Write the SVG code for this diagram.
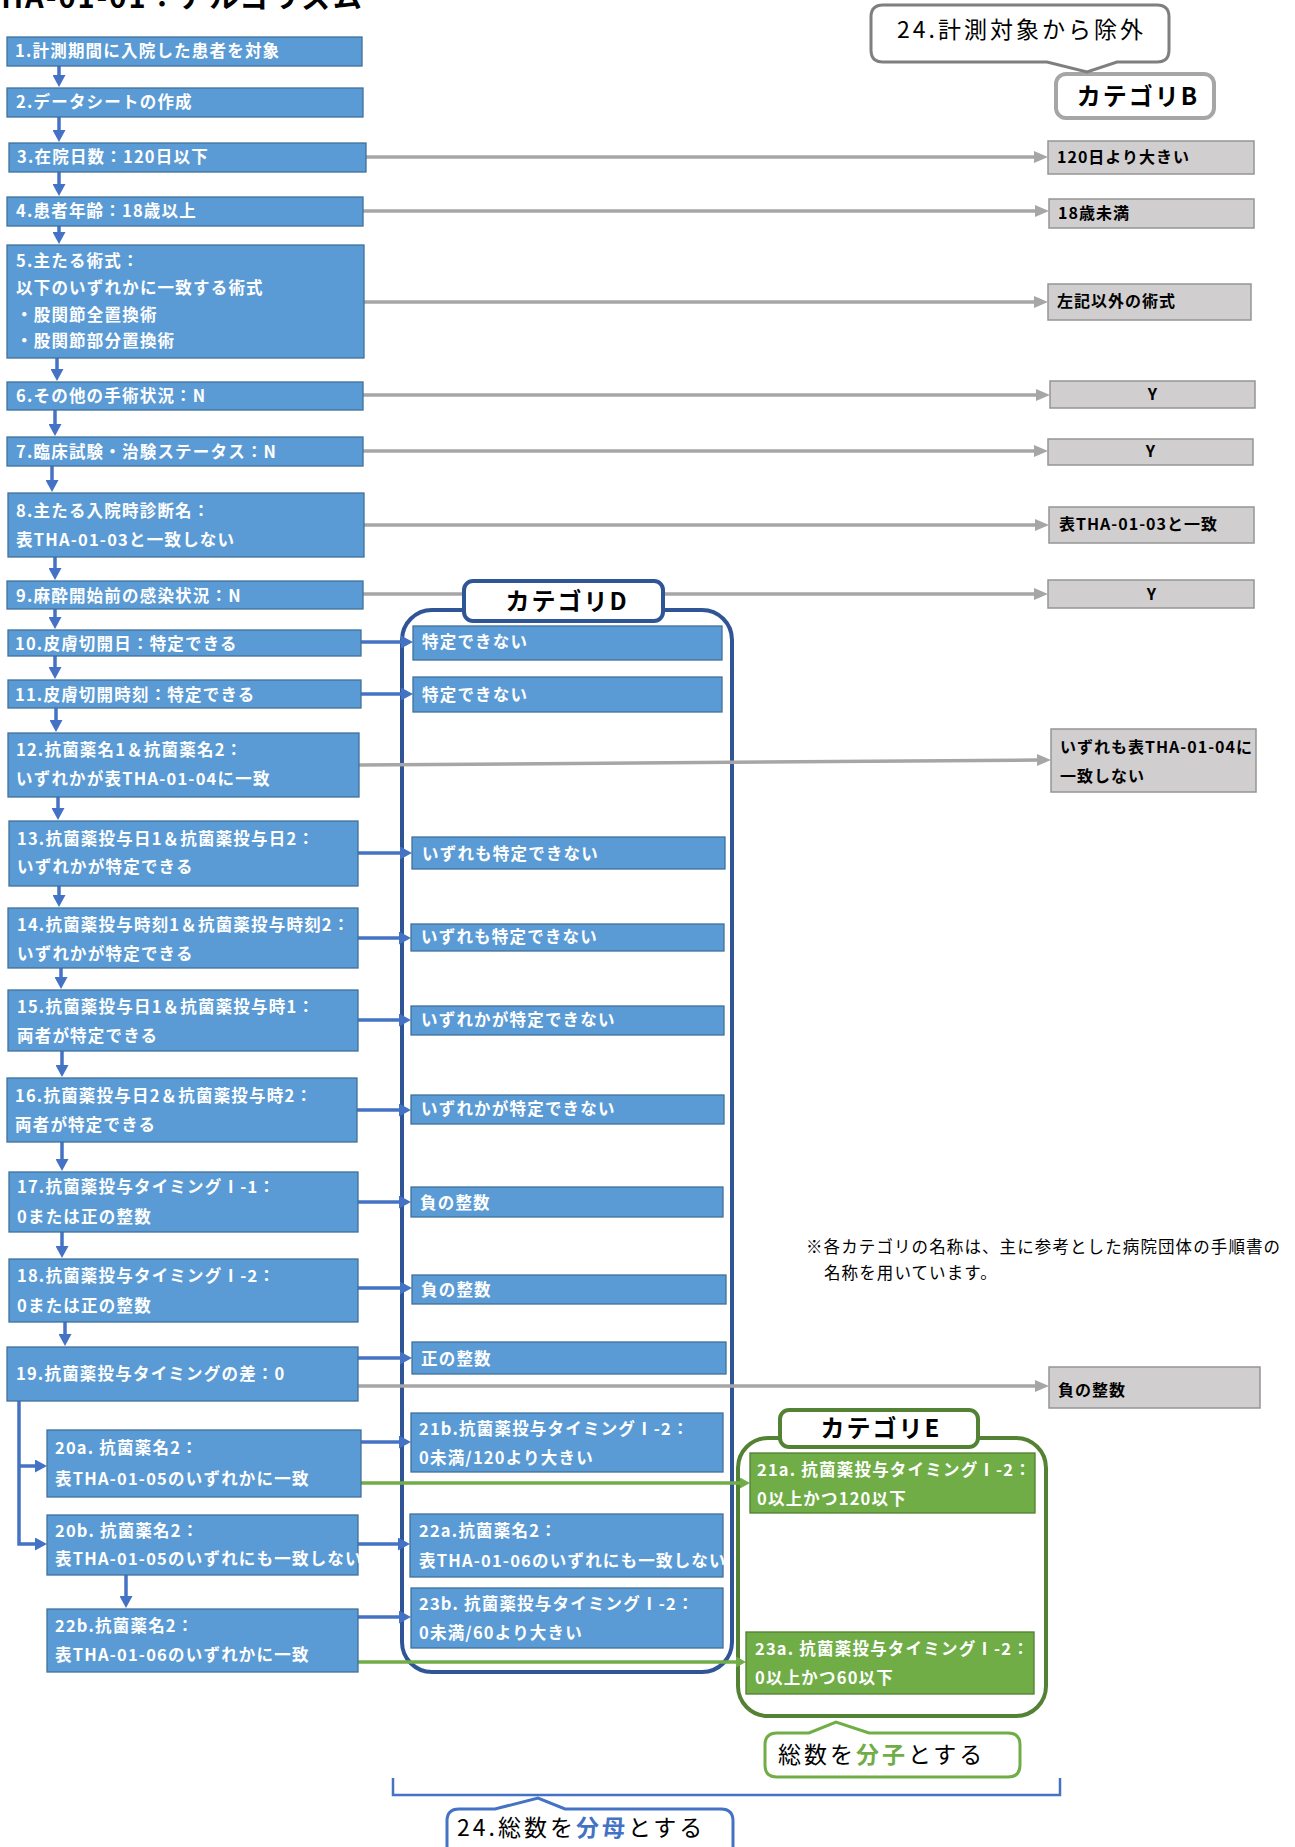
<svg xmlns="http://www.w3.org/2000/svg" width="1295" height="1847" viewBox="0 0 1295 1847">
<defs>
<style>
.bx{fill:#5B9BD5;stroke:#41719C;stroke-width:1.3}
.gb{fill:#D0CECE;stroke:#959595;stroke-width:1.5}
.gn{fill:#70AD47;stroke:#507E32;stroke-width:1.3}
text{font-family:"Noto Sans CJK JP","Noto Sans",sans-serif}
.wt{font-size:16.5px;font-weight:bold;fill:#fff;letter-spacing:1.2px}
.bt{font-size:16px;font-weight:bold;fill:#000;letter-spacing:1px}
.cat{font-size:24px;font-weight:bold;fill:#000;letter-spacing:2px}
.big{font-size:23px;fill:#000;letter-spacing:3px}
.note{font-size:16.5px;fill:#000;letter-spacing:1.1px}
.cb{stroke:#4472C4;stroke-width:3.5;fill:none}
.cg{stroke:#A6A6A6;stroke-width:3.5;fill:none}
.cgr{stroke:#70AD47;stroke-width:3.5;fill:none}
</style>
<marker id="ab" markerUnits="userSpaceOnUse" markerWidth="12" markerHeight="13" viewBox="0 0 12 13" refX="0" refY="6.5" orient="auto"><path d="M0,0 L12,6.5 L0,13 z" fill="#4472C4"/></marker>
<marker id="ag" markerUnits="userSpaceOnUse" markerWidth="14" markerHeight="12" viewBox="0 0 14 12" refX="0" refY="6" orient="auto"><path d="M0,0 L14,6 L0,12 z" fill="#A6A6A6"/></marker>
<marker id="agr" markerUnits="userSpaceOnUse" markerWidth="10" markerHeight="11" viewBox="0 0 10 11" refX="0" refY="5.5" orient="auto"><path d="M0,0 L10,5.5 L0,11 z" fill="#70AD47"/></marker>
</defs>
<rect width="1295" height="1847" fill="#fff"/>

<text id="title" x="-19" y="8" style="font-size:29px;font-weight:bold;fill:#000;letter-spacing:2px">THA-01-01：アルゴリズム</text>

<g id="containers">
<rect id="catD-frame" x="402" y="610" width="330" height="1062" rx="30" fill="none" stroke="#2F5597" stroke-width="4"/>
<rect id="catE-frame" x="738" y="1438" width="308" height="278" rx="30" fill="none" stroke="#548235" stroke-width="4"/>
</g>

<g id="connectors">
<path class="cb" marker-end="url(#ab)" d="M59,66 V75"/>
<path class="cb" marker-end="url(#ab)" d="M59,117 V130"/>
<path class="cb" marker-end="url(#ab)" d="M59,172 V184"/>
<path class="cb" marker-end="url(#ab)" d="M59,226 V232"/>
<path class="cb" marker-end="url(#ab)" d="M57,358 V369"/>
<path class="cb" marker-end="url(#ab)" d="M55,410 V424"/>
<path class="cb" marker-end="url(#ab)" d="M52,466 V480"/>
<path class="cb" marker-end="url(#ab)" d="M55,557 V568"/>
<path class="cb" marker-end="url(#ab)" d="M55,609 V617"/>
<path class="cb" marker-end="url(#ab)" d="M55,656 V667"/>
<path class="cb" marker-end="url(#ab)" d="M56,708 V720"/>
<path class="cb" marker-end="url(#ab)" d="M58,797 V808"/>
<path class="cb" marker-end="url(#ab)" d="M59,886 V895"/>
<path class="cb" marker-end="url(#ab)" d="M61,968 V977"/>
<path class="cb" marker-end="url(#ab)" d="M62,1051 V1065"/>
<path class="cb" marker-end="url(#ab)" d="M62,1142 V1159"/>
<path class="cb" marker-end="url(#ab)" d="M62,1232 V1246"/>
<path class="cb" marker-end="url(#ab)" d="M65,1322 V1334"/>
<path class="cb" marker-end="url(#ab)" d="M19,1401 V1544 H35"/>
<path class="cb" marker-end="url(#ab)" d="M19,1466 H35"/>
<path class="cb" marker-end="url(#ab)" d="M126,1575 V1596"/>

<path class="cb" marker-end="url(#ab)" d="M361,642 H401"/>
<path class="cb" marker-end="url(#ab)" d="M361,694 H401"/>
<path class="cb" marker-end="url(#ab)" d="M358,853 H400"/>
<path class="cb" marker-end="url(#ab)" d="M358,938 H399"/>
<path class="cb" marker-end="url(#ab)" d="M358,1020 H399"/>
<path class="cb" marker-end="url(#ab)" d="M357,1110 H399"/>
<path class="cb" marker-end="url(#ab)" d="M358,1202 H399"/>
<path class="cb" marker-end="url(#ab)" d="M358,1288 H400"/>
<path class="cb" marker-end="url(#ab)" d="M358,1358 H400"/>
<path class="cb" marker-end="url(#ab)" d="M361,1442 H399"/>
<path class="cb" marker-end="url(#ab)" d="M358,1544 H398"/>
<path class="cb" marker-end="url(#ab)" d="M358,1617 H399"/>

<path class="cg" marker-end="url(#ag)" d="M366,157 H1034"/>
<path class="cg" marker-end="url(#ag)" d="M363,211 H1035"/>
<path class="cg" marker-end="url(#ag)" d="M364,302 H1034"/>
<path class="cg" marker-end="url(#ag)" d="M363,395 H1036"/>
<path class="cg" marker-end="url(#ag)" d="M363,451 H1034"/>
<path class="cg" marker-end="url(#ag)" d="M364,525 H1035"/>
<path class="cg" marker-end="url(#ag)" d="M363,594 H1034"/>
<path class="cg" marker-end="url(#ag)" d="M359,765 L1037,760"/>
<path class="cg" marker-end="url(#ag)" d="M358,1386 H1035"/>

<path class="cgr" marker-end="url(#agr)" d="M361,1483 H740"/>
<path class="cgr" marker-end="url(#agr)" d="M358,1662 H736"/>

<path d="M393,1778 V1795 H1060 V1778" fill="none" stroke="#4472C4" stroke-width="2.5"/>
</g>

<g id="n1"><rect class="bx" x="7" y="37" width="355" height="29"/><text class="wt" x="15" y="57">1.計測期間に入院した患者を対象</text></g>
<g id="n2"><rect class="bx" x="7" y="88" width="356" height="29"/><text class="wt" x="16" y="108">2.データシートの作成</text></g>
<g id="n3"><rect class="bx" x="9" y="143" width="357" height="29"/><text class="wt" x="17" y="163">3.在院日数：120日以下</text></g>
<g id="n4"><rect class="bx" x="7" y="197" width="356" height="29"/><text class="wt" x="16" y="217">4.患者年齢：18歳以上</text></g>
<g id="n5"><rect class="bx" x="7" y="245" width="357" height="113"/>
<text class="wt" x="16" y="267">5.主たる術式：</text>
<text class="wt" x="16" y="294">以下のいずれかに一致する術式</text>
<text class="wt" x="16" y="321">・股関節全置換術</text>
<text class="wt" x="16" y="347">・股関節部分置換術</text></g>
<g id="n6"><rect class="bx" x="7" y="382" width="356" height="28"/><text class="wt" x="16" y="402">6.その他の手術状況：N</text></g>
<g id="n7"><rect class="bx" x="7" y="437" width="356" height="29"/><text class="wt" x="16" y="458">7.臨床試験・治験ステータス：N</text></g>
<g id="n8"><rect class="bx" x="8" y="493" width="356" height="64"/>
<text class="wt" x="16" y="517">8.主たる入院時診断名：</text>
<text class="wt" x="16" y="546">表THA-01-03と一致しない</text></g>
<g id="n9"><rect class="bx" x="7" y="581" width="356" height="28"/><text class="wt" x="16" y="602">9.麻酔開始前の感染状況：N</text></g>
<g id="n10"><rect class="bx" x="8" y="630" width="353" height="26"/><text class="wt" x="15" y="650">10.皮膚切開日：特定できる</text></g>
<g id="n11"><rect class="bx" x="8" y="680" width="353" height="28"/><text class="wt" x="15" y="701">11.皮膚切開時刻：特定できる</text></g>
<g id="n12"><rect class="bx" x="8" y="733" width="351" height="64"/>
<text class="wt" x="16" y="756">12.抗菌薬名1＆抗菌薬名2：</text>
<text class="wt" x="16" y="785">いずれかが表THA-01-04に一致</text></g>
<g id="n13"><rect class="bx" x="9" y="821" width="349" height="65"/>
<text class="wt" x="17" y="845">13.抗菌薬投与日1＆抗菌薬投与日2：</text>
<text class="wt" x="17" y="873">いずれかが特定できる</text></g>
<g id="n14"><rect class="bx" x="8" y="908" width="350" height="60"/>
<text class="wt" x="17" y="931">14.抗菌薬投与時刻1＆抗菌薬投与時刻2：</text>
<text class="wt" x="17" y="960">いずれかが特定できる</text></g>
<g id="n15"><rect class="bx" x="8" y="990" width="350" height="61"/>
<text class="wt" x="17" y="1013">15.抗菌薬投与日1＆抗菌薬投与時1：</text>
<text class="wt" x="17" y="1042">両者が特定できる</text></g>
<g id="n16"><rect class="bx" x="7" y="1078" width="350" height="64"/>
<text class="wt" x="15" y="1102">16.抗菌薬投与日2＆抗菌薬投与時2：</text>
<text class="wt" x="15" y="1131">両者が特定できる</text></g>
<g id="n17"><rect class="bx" x="9" y="1172" width="349" height="60"/>
<text class="wt" x="17" y="1193">17.抗菌薬投与タイミングⅠ-1：</text>
<text class="wt" x="17" y="1223">0または正の整数</text></g>
<g id="n18"><rect class="bx" x="9" y="1259" width="349" height="63"/>
<text class="wt" x="17" y="1282">18.抗菌薬投与タイミングⅠ-2：</text>
<text class="wt" x="17" y="1312">0または正の整数</text></g>
<g id="n19"><rect class="bx" x="7" y="1347" width="351" height="54"/><text class="wt" x="16" y="1380">19.抗菌薬投与タイミングの差：0</text></g>
<g id="n20a"><rect class="bx" x="47" y="1430" width="314" height="67"/>
<text class="wt" x="55" y="1454">20a. 抗菌薬名2：</text>
<text class="wt" x="55" y="1485">表THA-01-05のいずれかに一致</text></g>
<g id="n20b"><rect class="bx" x="47" y="1515" width="311" height="60"/>
<text class="wt" x="55" y="1537">20b. 抗菌薬名2：</text>
<text class="wt" x="55" y="1565">表THA-01-05のいずれにも一致しない</text></g>
<g id="n22b"><rect class="bx" x="47" y="1609" width="311" height="63"/>
<text class="wt" x="55" y="1632">22b.抗菌薬名2：</text>
<text class="wt" x="55" y="1661">表THA-01-06のいずれかに一致</text></g>

<g id="d10"><rect class="bx" x="413" y="626" width="309" height="34"/><text class="wt" x="422" y="648">特定できない</text></g>
<g id="d11"><rect class="bx" x="413" y="677" width="309" height="35"/><text class="wt" x="422" y="701">特定できない</text></g>
<g id="d13"><rect class="bx" x="412" y="837" width="313" height="32"/><text class="wt" x="422" y="860">いずれも特定できない</text></g>
<g id="d14"><rect class="bx" x="411" y="924" width="313" height="27"/><text class="wt" x="421" y="943">いずれも特定できない</text></g>
<g id="d15"><rect class="bx" x="411" y="1006" width="313" height="29"/><text class="wt" x="421" y="1026">いずれかが特定できない</text></g>
<g id="d16"><rect class="bx" x="411" y="1095" width="313" height="29"/><text class="wt" x="421" y="1115">いずれかが特定できない</text></g>
<g id="d17"><rect class="bx" x="411" y="1187" width="312" height="30"/><text class="wt" x="420" y="1209">負の整数</text></g>
<g id="d18"><rect class="bx" x="412" y="1275" width="314" height="29"/><text class="wt" x="421" y="1296">負の整数</text></g>
<g id="d19"><rect class="bx" x="412" y="1342" width="314" height="32"/><text class="wt" x="421" y="1365">正の整数</text></g>
<g id="d21b"><rect class="bx" x="411" y="1413" width="312" height="59"/>
<text class="wt" x="419" y="1435">21b.抗菌薬投与タイミングⅠ-2：</text>
<text class="wt" x="419" y="1464">0未満/120より大きい</text></g>
<g id="d22a"><rect class="bx" x="410" y="1514" width="313" height="63"/>
<text class="wt" x="419" y="1537">22a.抗菌薬名2：</text>
<text class="wt" x="419" y="1567">表THA-01-06のいずれにも一致しない</text></g>
<g id="d23b"><rect class="bx" x="411" y="1588" width="312" height="60"/>
<text class="wt" x="419" y="1610">23b. 抗菌薬投与タイミングⅠ-2：</text>
<text class="wt" x="419" y="1639">0未満/60より大きい</text></g>

<g id="e21a"><rect class="gn" x="750" y="1453" width="285" height="60"/>
<text class="wt" x="757" y="1476">21a. 抗菌薬投与タイミングⅠ-2：</text>
<text class="wt" x="757" y="1505">0以上かつ120以下</text></g>
<g id="e23a"><rect class="gn" x="746" y="1632" width="288" height="62"/>
<text class="wt" x="755" y="1655">23a. 抗菌薬投与タイミングⅠ-2：</text>
<text class="wt" x="755" y="1684">0以上かつ60以下</text></g>

<g id="g3"><rect class="gb" x="1048" y="141" width="206" height="33"/><text class="bt" x="1057" y="163">120日より大きい</text></g>
<g id="g4"><rect class="gb" x="1049" y="199" width="205" height="29"/><text class="bt" x="1058" y="219">18歳未満</text></g>
<g id="g5"><rect class="gb" x="1048" y="284" width="203" height="36"/><text class="bt" x="1057" y="307">左記以外の術式</text></g>
<g id="g6"><rect class="gb" x="1050" y="381" width="205" height="27"/><text class="bt" x="1153" y="400" text-anchor="middle">Y</text></g>
<g id="g7"><rect class="gb" x="1048" y="439" width="205" height="26"/><text class="bt" x="1151" y="457" text-anchor="middle">Y</text></g>
<g id="g8"><rect class="gb" x="1049" y="507" width="205" height="36"/><text class="bt" x="1059" y="530">表THA-01-03と一致</text></g>
<g id="g9"><rect class="gb" x="1048" y="580" width="206" height="28"/><text class="bt" x="1152" y="600" text-anchor="middle">Y</text></g>
<g id="g12"><rect class="gb" x="1051" y="729" width="205" height="63"/>
<text class="bt" x="1060" y="753">いずれも表THA-01-04に</text>
<text class="bt" x="1060" y="782">一致しない</text></g>
<g id="g19"><rect class="gb" x="1049" y="1367" width="211" height="41"/><text class="bt" x="1058" y="1396">負の整数</text></g>

<g id="labelD"><rect x="464" y="581" width="199" height="40" rx="9" fill="#fff" stroke="#2F5597" stroke-width="4"/><text class="cat" x="567" y="610" text-anchor="middle">カテゴリD</text></g>
<g id="labelB"><rect x="1056" y="74" width="158" height="44" rx="10" fill="#fff" stroke="#A6A6A6" stroke-width="4"/><text class="cat" x="1138" y="105" text-anchor="middle">カテゴリB</text></g>
<g id="labelE"><rect x="780" y="1410" width="198" height="37" rx="9" fill="#fff" stroke="#548235" stroke-width="4"/><text class="cat" x="881" y="1437" text-anchor="middle">カテゴリE</text></g>

<g id="callout-exclude"><path d="M883,5 H1157 Q1169,5 1169,17 V50 Q1169,62 1157,62 H1117 L1087,72 L1047,62 H883 Q871,62 871,50 V17 Q871,5 883,5 Z" fill="#fff" stroke="#7F7F7F" stroke-width="3"/>
<text class="big" x="897" y="38">24.計測対象から除外</text></g>
<g id="callout-numerator"><path d="M777,1733 H809 L836,1722 L869,1733 H1008 Q1020,1733 1020,1745 V1765 Q1020,1777 1008,1777 H777 Q765,1777 765,1765 V1745 Q765,1733 777,1733 Z" fill="#fff" stroke="#70AD47" stroke-width="3"/>
<text class="big" x="778" y="1763" style="letter-spacing:3px">総数を<tspan style="fill:#70AD47;font-weight:bold">分子</tspan>とする</text></g>
<g id="callout-denominator"><path d="M459,1809 H495 L538,1798 L565,1809 H721 Q733,1809 733,1821 V1870 H447 V1821 Q447,1809 459,1809 Z" fill="#fff" stroke="#4472C4" stroke-width="3"/>
<text class="big" x="457" y="1836">24.総数を<tspan style="fill:#4472C4;font-weight:bold">分母</tspan>とする</text></g>

<g id="note"><text class="note" x="806" y="1253">※各カテゴリの名称は、主に参考とした病院団体の手順書の</text>
<text class="note" x="824" y="1279">名称を用いています。</text></g>
</svg>
